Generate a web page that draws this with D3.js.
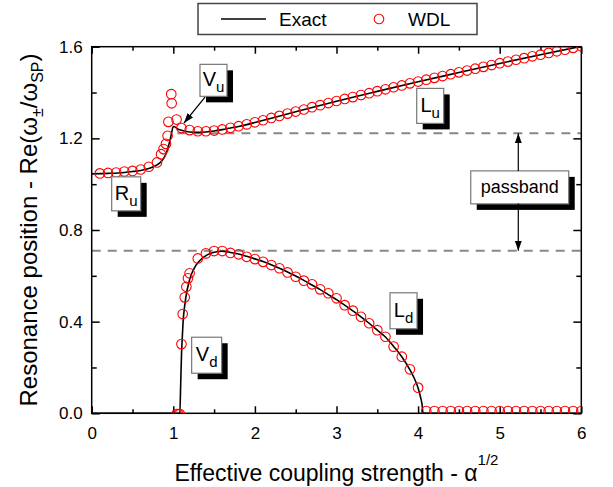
<!DOCTYPE html>
<html><head><meta charset="utf-8">
<script src="https://cdn.jsdelivr.net/npm/d3@7"></script>
<style>
body{margin:0;background:#fff}
svg{display:block}
text{font-family:"Liberation Sans",Arial,Helvetica,sans-serif;fill:#000}
</style>
</head><body>
<svg id="chart" width="613" height="487"></svg>
<script>
// ---------- data ----------
const xTicks = [0,1,2,3,4,5,6];
const xMinor = [0.5,1.5,2.5,3.5,4.5,5.5];
const yTicks = [0.0,0.4,0.8,1.2,1.6];
const yMinor = [0.2,0.6,1.0,1.4];
const yTickLabels = ["0.0","0.4","0.8","1.2","1.6"];

// Exact: upper branch (R_u -> V_u -> L_u)
const exactUpperX = [0,0.2,0.4,0.5,0.6,0.7,0.75,0.8,0.85,0.88,0.91,0.94,0.96,0.98,1.0,1.02,1.05,1.1,1.2,1.3,1.4,1.5,1.6,1.7,1.8,1.9,2.0,2.5,3.0,3.5,4.0,4.5,5.0,5.5,6.0];
const exactUpperY = [1.045,1.047,1.051,1.055,1.060,1.068,1.075,1.084,1.098,1.112,1.133,1.165,1.192,1.225,1.252,1.250,1.242,1.235,1.228,1.226,1.228,1.232,1.238,1.245,1.252,1.260,1.269,1.316,1.362,1.405,1.447,1.487,1.527,1.565,1.602];

// Exact: lower branch (V_d -> L_d)
const exactLowerX = [0,1.08,1.09,1.10,1.11,1.12,1.14,1.16,1.19,1.22,1.26,1.30,1.35,1.40,1.50,1.60,1.70,1.80,1.90,2.00,2.10,2.20,2.30,2.40,2.50,2.60,2.70,2.80,2.90,3.00,3.10,3.20,3.30,3.40,3.50,3.60,3.70,3.80,3.90,3.95,4.00,4.03,4.05,4.06,6.0];
const exactLowerY = [0,0,0.12,0.25,0.33,0.40,0.47,0.52,0.57,0.605,0.635,0.657,0.675,0.688,0.703,0.707,0.702,0.695,0.685,0.674,0.662,0.648,0.633,0.617,0.599,0.580,0.560,0.540,0.518,0.496,0.472,0.447,0.421,0.393,0.363,0.333,0.292,0.247,0.19,0.155,0.11,0.07,0.035,0,0];

// WDL: upper branch
const wdlUpperX = [0.1,0.2,0.3,0.4,0.5,0.6,0.7,0.8,0.85,0.88,0.91,0.93,0.94,0.98,0.975,1.04,1.1,1.2,1.3,1.4,1.5,1.6,1.7,1.8,1.9,2.0,2.1,2.2,2.3,2.4,2.5,2.6,2.7,2.8,2.9,3.0,3.1,3.2,3.3,3.4,3.5,3.6,3.7,3.8,3.9,4.0,4.1,4.2,4.3,4.4,4.5,4.6,4.7,4.8,4.9,5.0,5.1,5.2,5.3,5.4,5.5,5.6,5.7,5.8,5.9,6.0];
const wdlUpperY = [1.047,1.049,1.051,1.055,1.058,1.064,1.076,1.095,1.131,1.153,1.176,1.211,1.272,1.353,1.393,1.282,1.245,1.236,1.231,1.231,1.234,1.239,1.246,1.253,1.261,1.270,1.279,1.289,1.298,1.308,1.317,1.326,1.336,1.345,1.354,1.363,1.372,1.380,1.389,1.397,1.406,1.414,1.423,1.431,1.440,1.448,1.456,1.464,1.472,1.480,1.488,1.496,1.504,1.512,1.520,1.528,1.535,1.543,1.550,1.558,1.565,1.573,1.580,1.587,1.595,1.602];

// WDL: lower branch
const wdlLowerX = [1.04,1.06,1.08,1.10,1.115,1.14,1.16,1.18,1.20,1.3,1.4,1.5,1.6,1.7,1.8,1.9,2.0,2.1,2.2,2.3,2.4,2.5,2.6,2.7,2.8,2.9,3.0,3.1,3.2,3.3,3.4,3.5,3.6,3.7,3.8,3.9,4.0,4.1,4.2,4.3,4.4,4.5,4.6,4.7,4.8,4.9,5.0,5.1,5.2,5.3,5.4,5.5,5.6,5.7,5.8,5.9,6.0];
const wdlLowerY = [-0.003,-0.003,-0.003,0.302,0.433,0.506,0.552,0.589,0.611,0.676,0.698,0.708,0.708,0.700,0.694,0.683,0.673,0.661,0.647,0.633,0.615,0.596,0.579,0.563,0.541,0.524,0.502,0.472,0.448,0.421,0.393,0.363,0.334,0.291,0.247,0.192,0.112,0.01,0.01,0.01,0.01,0.01,0.01,0.01,0.01,0.01,0.01,0.01,0.01,0.01,0.01,0.01,0.01,0.01,0.01,0.01,0.01];

const passbandTop = 1.222;
const passbandBottom = 0.7095;
const legendLabels = ["Exact","WDL"];

// ---------- layout ----------
const W = 613, H = 487;
const M = {left:91.7, right:613-581.3, top:46.7, bottom:487-413.3};
const svg = d3.select("#chart");
const x = d3.scaleLinear().domain([0,6]).range([M.left, W-M.right]);
const y = d3.scaleLinear().domain([0,1.6]).range([H-M.bottom, M.top]);

svg.append("defs").append("clipPath").attr("id","clip")
  .append("rect").attr("x",M.left).attr("y",M.top)
  .attr("width",x(6)-x(0)).attr("height",y(0)-y(1.6));

// dashed passband lines
const dash = svg.append("g");
dash.append("line").attr("x1",x(1.05)).attr("x2",x(6)).attr("y1",y(passbandTop)).attr("y2",y(passbandTop));
dash.append("line").attr("x1",x(0)).attr("x2",x(6)).attr("y1",y(passbandBottom)).attr("y2",y(passbandBottom));
dash.selectAll("line").attr("stroke","#888").attr("stroke-width",2).attr("stroke-dasharray","9,7");

// axes (ticks inward)
function styleAxis(g){ g.select(".domain").remove(); g.selectAll("line").attr("stroke","#000").attr("stroke-width",1.5); }
svg.append("g").attr("transform",`translate(0,${y(0)})`)
  .call(d3.axisBottom(x).tickValues(xTicks).tickSize(-7).tickPadding(14).tickFormat(d3.format("d")))
  .call(styleAxis).call(g=>g.selectAll("text").attr("font-size",17).attr("font-family","Liberation Sans, Arial"));
svg.append("g").attr("transform",`translate(0,${y(0)})`)
  .call(d3.axisBottom(x).tickValues(xMinor).tickSize(-4).tickFormat(""))
  .call(styleAxis);
svg.append("g").attr("transform",`translate(0,${y(1.6)})`)
  .call(d3.axisTop(x).tickValues(xTicks).tickSize(-7).tickFormat(""))
  .call(styleAxis);
svg.append("g").attr("transform",`translate(0,${y(1.6)})`)
  .call(d3.axisTop(x).tickValues(xMinor).tickSize(-4).tickFormat(""))
  .call(styleAxis);
svg.append("g").attr("transform",`translate(${x(0)},0)`)
  .call(d3.axisLeft(y).tickValues(yTicks).tickSize(-8).tickPadding(9).tickFormat((d,i)=>yTickLabels[i]))
  .call(styleAxis).call(g=>g.selectAll("text").attr("font-size",17).attr("font-family","Liberation Sans, Arial"));
svg.append("g").attr("transform",`translate(${x(0)},0)`)
  .call(d3.axisLeft(y).tickValues(yMinor).tickSize(-5).tickFormat(""))
  .call(styleAxis);
svg.append("g").attr("transform",`translate(${x(6)},0)`)
  .call(d3.axisRight(y).tickValues(yTicks).tickSize(-8).tickFormat(""))
  .call(styleAxis);
svg.append("g").attr("transform",`translate(${x(6)},0)`)
  .call(d3.axisRight(y).tickValues(yMinor).tickSize(-5).tickFormat(""))
  .call(styleAxis);

// frame
svg.append("rect").attr("x",x(0)).attr("y",y(1.6)).attr("width",x(6)-x(0)).attr("height",y(0)-y(1.6))
  .attr("fill","none").attr("stroke","#000").attr("stroke-width",1.5);

// exact lines
const line = d3.line().x(d=>x(d[0])).y(d=>y(d[1])).curve(d3.curveMonotoneX);
const upper = exactUpperX.map((v,i)=>[v,exactUpperY[i]]);
const lower = exactLowerX.map((v,i)=>[v,exactLowerY[i]]);
const lines = svg.append("g").attr("clip-path","url(#clip)");
[upper,lower].forEach(d=>lines.append("path").datum(d).attr("d",line)
  .attr("fill","none").attr("stroke","#000").attr("stroke-width",1.6));

// WDL circles
const pts = wdlUpperX.map((v,i)=>[v,wdlUpperY[i]]).concat(wdlLowerX.map((v,i)=>[v,wdlLowerY[i]]));
svg.append("g").attr("clip-path","url(#clip)")
  .selectAll("circle").data(pts).join("circle")
  .attr("cx",d=>x(d[0])).attr("cy",d=>y(d[1])).attr("r",4.8)
  .attr("fill","none").attr("stroke","#ff0000").attr("stroke-width",1.1);

// annotation boxes with shadows
function labelBox(px, py, w, h, main, sub){
  const g = svg.append("g");
  g.append("rect").attr("x",px+6).attr("y",py+6).attr("width",w).attr("height",h).attr("fill","#000");
  g.append("rect").attr("x",px).attr("y",py).attr("width",w).attr("height",h)
    .attr("fill","#fff").attr("stroke","#777").attr("stroke-width",1.2);
  const t = g.append("text").attr("x",px+w/2).attr("y",py+h/2+6).attr("text-anchor","middle").attr("font-size",sub?20:18);
  t.append("tspan").text(main);
  if(sub) t.append("tspan").attr("font-size",15).attr("dy",6).text(sub);
  return g;
}
labelBox(x(1.327), y(1.523), 27, 32, "V", "u");
labelBox(x(0.245), y(1.032), 29, 34, "R", "u");
labelBox(x(1.225), y(0.332), 30, 36, "V", "d");
labelBox(x(3.656), y(0.526), 27, 36, "L", "d");
labelBox(x(3.983), y(1.418), 27, 35, "L", "u");
labelBox(x(4.645), y(1.058), 98, 33, "passband", null);

// arrows
const defs = svg.select("defs");
defs.append("marker").attr("id","ah").attr("viewBox","0 0 10 10").attr("refX",10).attr("refY",5)
  .attr("markerWidth",10).attr("markerHeight",10).attr("markerUnits","userSpaceOnUse").attr("orient","auto")
  .append("path").attr("d","M0,1.5 L10,5 L0,8.5 Z").attr("fill","#000");
function arrow(x1,y1,x2,y2){
  svg.append("line").attr("x1",x(x1)).attr("y1",y(y1)).attr("x2",x(x2)).attr("y2",y(y2))
    .attr("stroke","#000").attr("stroke-width",1.2).attr("marker-end","url(#ah)");
}
arrow(1.389,1.380,1.131,1.267);
arrow(5.228,1.058,5.228,passbandTop);
arrow(5.228,0.916,5.228,passbandBottom);

// legend
const lg = svg.append("g");
lg.append("rect").attr("x",198).attr("y",3.5).attr("width",279).attr("height",31)
  .attr("fill","#fff").attr("stroke","#444").attr("stroke-width",1.5);
lg.append("line").attr("x1",221).attr("x2",266).attr("y1",19).attr("y2",19).attr("stroke","#000").attr("stroke-width",1.6);
lg.append("text").attr("x",279).attr("y",26).attr("font-size",19).text(legendLabels[0]);
lg.append("circle").attr("cx",379).attr("cy",19).attr("r",4.8).attr("fill","none").attr("stroke","#ff0000").attr("stroke-width",1.1);
lg.append("text").attr("x",408).attr("y",26).attr("font-size",19).text(legendLabels[1]);

// axis titles
const xt = svg.append("text").attr("x",(x(0)+x(6))/2).attr("y",481).attr("text-anchor","middle").attr("font-size",23);
xt.append("tspan").text("Effective coupling strength - α");
xt.append("tspan").attr("font-size",15).attr("dy",-16).text("1/2");

const yt = svg.append("text").attr("transform",`translate(37,${(y(0)+y(1.6))/2}) rotate(-90)`)
  .attr("text-anchor","middle").attr("font-size",24);
yt.append("tspan").text("Resonance position - Re(ω");
yt.append("tspan").attr("font-size",16).attr("dy",6).text("±");
yt.append("tspan").attr("dy",-6).text("/ω");
yt.append("tspan").attr("font-size",16).attr("dy",6).text("SP");
yt.append("tspan").attr("dy",-6).text(")");
</script>
</body></html>
